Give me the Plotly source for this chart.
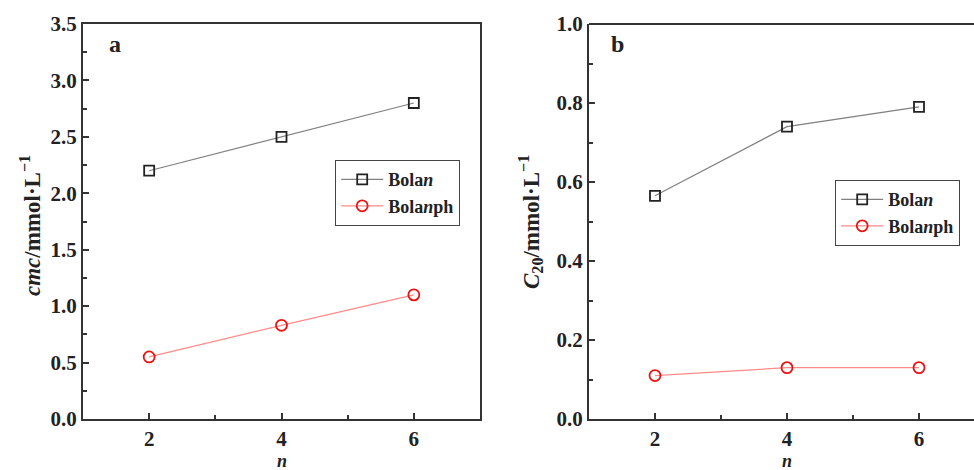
import plotly.graph_objects as go

n_values = [2, 4, 6]
cmc_bolan = [2.2, 2.5, 2.8]
cmc_bolanph = [0.55, 0.83, 1.1]
c20_bolan = [0.565, 0.74, 0.79]
c20_bolanph = [0.11, 0.13, 0.13]

FONT = "Liberation Serif"
W, H = 974, 470

def px_x(p):
    return p / W

def px_y(p):
    return (H - p) / H

fig = go.Figure()

series_style = dict(
    bolan=dict(line=dict(color="#808080", width=1.2),
               marker=dict(symbol="square-open", size=10, color="#222222", line=dict(width=1.8))),
    bolanph=dict(line=dict(color="#ff8a8a", width=1.2),
                 marker=dict(symbol="circle-open", size=11, color="#ee1111", line=dict(width=1.8))),
)

fig.add_trace(go.Scatter(x=n_values, y=cmc_bolan, mode="lines+markers", name="<b>Bola<i>n</i></b>",
                         xaxis="x", yaxis="y", legend="legend", **series_style["bolan"]))
fig.add_trace(go.Scatter(x=n_values, y=cmc_bolanph, mode="lines+markers", name="<b>Bola<i>n</i>ph</b>",
                         xaxis="x", yaxis="y", legend="legend", **series_style["bolanph"]))
fig.add_trace(go.Scatter(x=n_values, y=c20_bolan, mode="lines+markers", name="<b>Bola<i>n</i></b>",
                         xaxis="x2", yaxis="y2", legend="legend2", **series_style["bolan"]))
fig.add_trace(go.Scatter(x=n_values, y=c20_bolanph, mode="lines+markers", name="<b>Bola<i>n</i>ph</b>",
                         xaxis="x2", yaxis="y2", legend="legend2", **series_style["bolanph"]))

ydom = [px_y(419), px_y(24)]
axis_common = dict(
    showline=True, linecolor="#333333", linewidth=2,
    ticks="inside", ticklen=6, tickwidth=1.5, tickcolor="#333333",
    showgrid=False, zeroline=False, automargin=False,
    tickfont=dict(family=FONT, size=21, color="#222222", weight="bold"),
)

xticks = dict(tickmode="array", tickvals=[2, 4, 6], ticktext=["2", "4", "6"],
              minor=dict(tickvals=[3, 5], ticks="inside", ticklen=4, tickcolor="#333333", tickwidth=1.5))

legend_common = dict(xanchor="left", yanchor="top",
                     bgcolor="white", bordercolor="#444444", borderwidth=1.2,
                     font=dict(family=FONT, size=18, color="#222222"),
                     tracegroupgap=0, itemwidth=42)

fig.update_layout(
    width=W, height=H,
    margin=dict(l=0, r=0, t=0, b=0, autoexpand=False),
    paper_bgcolor="white", plot_bgcolor="white",
    showlegend=True,
    xaxis=dict(domain=[px_x(83), px_x(480)], range=[1, 7], anchor="y", mirror=True, **xticks, **axis_common),
    yaxis=dict(domain=ydom, range=[0, 3.5], anchor="x", mirror=True,
               tickmode="array", tickvals=[0, 0.5, 1, 1.5, 2, 2.5, 3, 3.5],
               ticktext=["0.0", "0.5", "1.0", "1.5", "2.0", "2.5", "3.0", "3.5"],
               minor=dict(tickvals=[0.25, 0.75, 1.25, 1.75, 2.25, 2.75, 3.25], ticks="inside",
                          ticklen=4, tickcolor="#333333", tickwidth=1.5),
               **axis_common),
    xaxis2=dict(domain=[px_x(589), 1], range=[1, 1 + (974 - 589) / 66.0], anchor="y2", mirror=False,
                **xticks, **axis_common),
    yaxis2=dict(domain=ydom, range=[0, 1.0], anchor="x2", mirror=False,
                tickmode="array", tickvals=[0, 0.2, 0.4, 0.6, 0.8, 1.0],
                ticktext=["0.0", "0.2", "0.4", "0.6", "0.8", "1.0"],
                minor=dict(tickvals=[0.1, 0.3, 0.5, 0.7, 0.9], ticks="inside",
                           ticklen=4, tickcolor="#333333", tickwidth=1.5),
                **axis_common),
    legend=dict(x=px_x(335), y=px_y(160), **legend_common),
    legend2=dict(x=px_x(835), y=px_y(180), **legend_common),
)

# top border line for panel b (right side is cropped in the reference)
fig.add_shape(type="line", xref="paper", yref="paper", x0=px_x(589), x1=1, y0=px_y(24), y1=px_y(24),
              line=dict(color="#333333", width=2))

ann_font = dict(family=FONT, size=23, color="#222222")
n_font = dict(family=FONT, size=18, color="#222222")
annotations = [
    dict(text="<b>a</b>", x=px_x(115), y=px_y(44), font=dict(family=FONT, size=24, color="#222222")),
    dict(text="<b>b</b>", x=px_x(617), y=px_y(44), font=dict(family=FONT, size=24, color="#222222")),
    dict(text="<b><i>cmc</i>/mmol·L<sup>−1</sup></b>", x=px_x(30), y=px_y(226), textangle=-90, font=ann_font),
    dict(text="<b><i>C</i><sub>20</sub>/mmol·L<sup>−1</sup></b>", x=px_x(530), y=px_y(222), textangle=-90, font=ann_font),
    dict(text="<b><i>n</i></b>", x=px_x(282), y=px_y(460.5), font=n_font),
    dict(text="<b><i>n</i></b>", x=px_x(787), y=px_y(460.5), font=n_font),
]
for a in annotations:
    fig.add_annotation(xref="paper", yref="paper", showarrow=False, xanchor="center", yanchor="middle", **a)

fig.write_html("out.html", config={"displayModeBar": False},
               post_script="document.body.style.margin='0';document.body.style.overflow='hidden';")
